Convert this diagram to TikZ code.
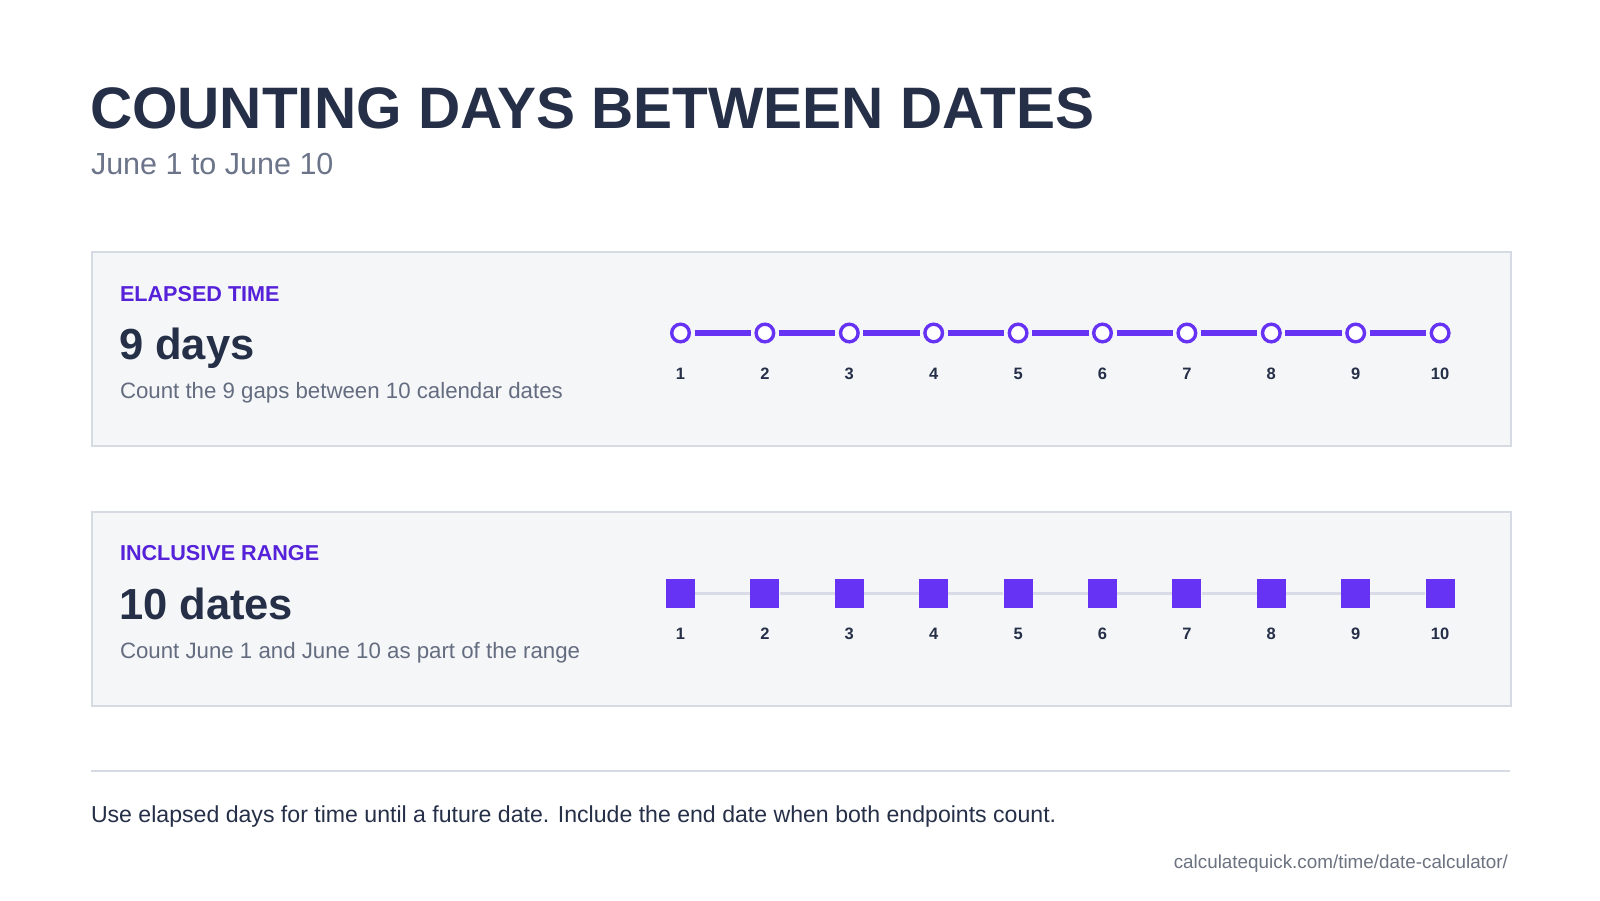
\documentclass[tikz,border=0pt]{standalone}
\usepackage{fontspec}
\setmainfont{Liberation Sans}
\definecolor{ink}{HTML}{252F47}
\definecolor{subgrey}{HTML}{6B7489}
\definecolor{descgrey}{HTML}{646C80}
\definecolor{labelpurple}{HTML}{5522D9}
\definecolor{markpurple}{HTML}{6633F5}
\definecolor{panelfill}{HTML}{F5F6F8}
\definecolor{panelline}{HTML}{D6DAE3}
\definecolor{trackgrey}{HTML}{D9DCE6}
\definecolor{urlgrey}{HTML}{6B7280}
\tikzset{
  txt/.style={inner sep=0pt, outer sep=0pt, anchor=base west},
  panelbox/.style={draw=panelline, line width=2pt, fill=panelfill, anchor=north west,
    minimum width=1419pt, minimum height=194pt, inner sep=0pt},
  headlabel/.style={txt, text=labelpurple, font=\bfseries\fontsize{21.6}{24}\selectfont},
  bigvalue/.style={txt, text=ink, font=\bfseries\fontsize{43.5}{46}\selectfont},
  desc/.style={txt, text=descgrey, font=\fontsize{22.25}{26}\selectfont},
  num/.style={inner sep=0pt, anchor=base, text=ink, font=\bfseries\fontsize{16.5}{18}\selectfont},
  ring/.style={circle, draw=markpurple, line width=3.4pt, fill=white, minimum size=17.6pt, inner sep=0pt},
  seg/.style={draw=markpurple, line width=6pt, shorten <=14pt, shorten >=14pt},
  sq/.style={rectangle, fill=markpurple, minimum size=29pt, inner sep=0pt},
  track/.style={draw=trackgrey, line width=3pt}
}
\begin{document}
\begin{tikzpicture}[x=1pt,y=-1pt]
\useasboundingbox[fill=white] (0,0) rectangle (1600,900);

% title
\node[txt, text=ink, font=\bfseries\fontsize{58.5}{62}\selectfont] (title) at (90,128) {COUNTING DAYS BETWEEN DATES};
\node[txt, text=subgrey, font=\fontsize{30.5}{33}\selectfont] (subtitle) at (91,174.5) {June 1 to June 10};

% panel 1
\node[panelbox] (p1) at (91,251) {};
\node[headlabel] (l1) at (120,301) {ELAPSED TIME};
\node[bigvalue] (v1) at (119,359) {9 days};
\node[desc] (d1) at (120,398) {Count the 9 gaps between 10 calendar dates};

\foreach \i in {1,...,10} {
  \pgfmathsetmacro\xx{680.5+84.4*(\i-1)}
  \node[ring] (c\i) at (\xx,333) {};
  \node[num] (a\i) at (\xx,379.5) {\i};
}
\foreach \i [evaluate=\i as \j using int(\i+1)] in {1,...,9}
  \draw[seg] (c\i.center) -- (c\j.center);

% panel 2
\node[panelbox] (p2) at (91,511) {};
\node[headlabel] (l2) at (120,560) {INCLUSIVE RANGE};
\node[bigvalue] (v2) at (119,619) {10 dates};
\node[desc] (d2) at (120,658) {Count June 1 and June 10 as part of the range};

\foreach \i in {1,...,10} {
  \pgfmathsetmacro\xx{680.5+84.4*(\i-1)}
  \node[sq] (s\i) at (\xx,593) {};
  \node[num] (b\i) at (\xx,639) {\i};
}
\foreach \i [evaluate=\i as \j using int(\i+1)] in {1,...,9}
  \draw[track] (s\i) -- (s\j);

% separator and footer
\coordinate (sepL) at (91,770.5);
\coordinate (sepR) at (1510,770.5);
\draw[draw=panelline, line width=2pt] (sepL) -- (sepR);
\node[txt, text=ink, font=\fontsize{23.1}{26}\selectfont] (foot) at (91,822.5)
  {Use elapsed days for time until a future date. Include the end date when both endpoints count.};
\node[txt, anchor=base east, text=urlgrey, font=\fontsize{18.85}{22}\selectfont] (url) at (1508,868.5)
  {calculatequick.com/time/date-calculator/};
\end{tikzpicture}
\end{document}
